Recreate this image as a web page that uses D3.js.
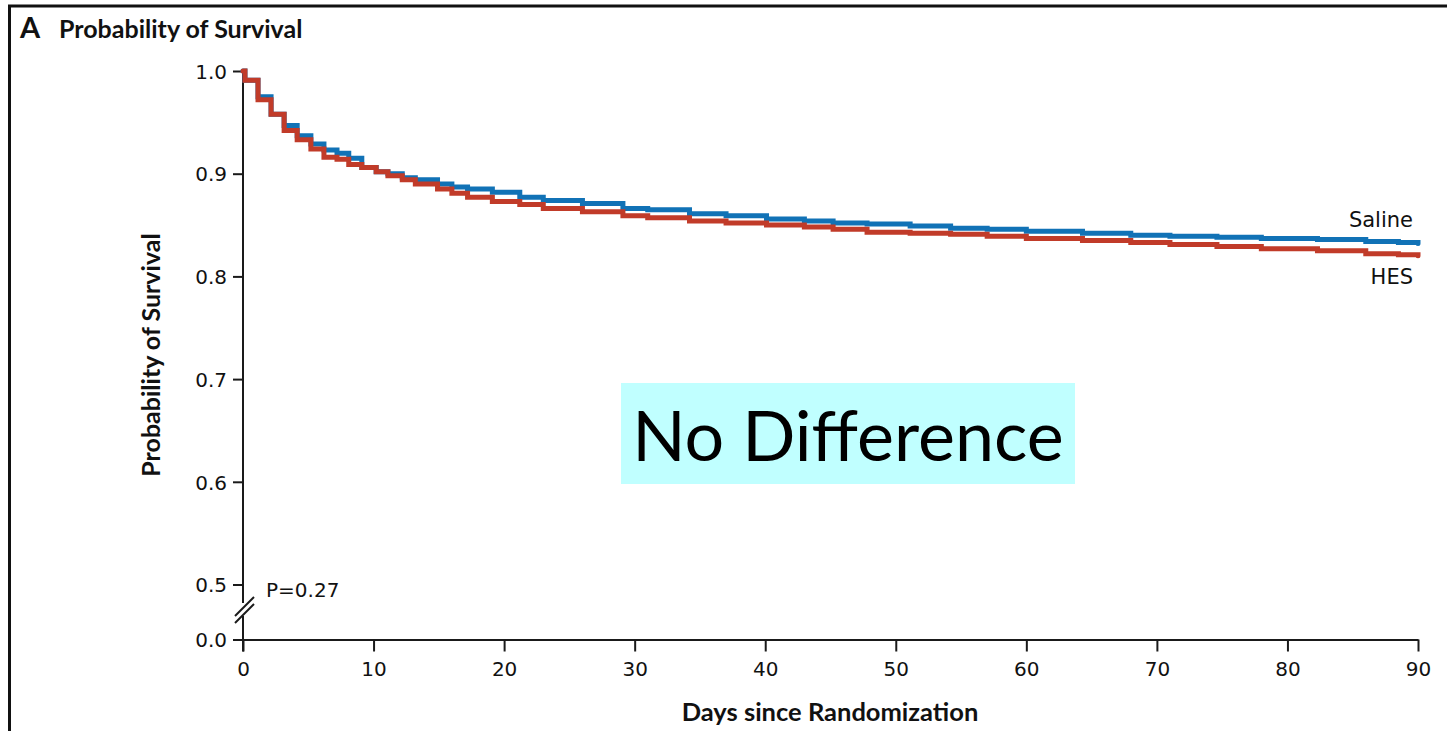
<!DOCTYPE html>
<html><head><meta charset="utf-8">
<script src="https://cdn.jsdelivr.net/npm/d3@7"></script>
<style>html,body{margin:0;padding:0;background:#fff;}svg{display:block;}</style>
</head><body>
<svg id="chart" width="1447" height="731"></svg>
<script>
// ---- data ----
const days   = [0, 0.15, 1.15, 2.15, 3.15, 4.15, 5.2, 6.2, 7.2, 8.1, 9.1, 10.2, 11.1, 12.2, 13.2, 14.9, 16, 17.2, 19.1, 21.2, 23, 26, 29.1, 31, 34.2, 37, 40.1, 43, 45.2, 47.8, 51.1, 54.2, 57, 60, 64.3, 68, 71, 74.6, 78, 82.3, 86, 88.5, 90];
const saline = [1.0, 0.991, 0.975, 0.958, 0.947, 0.937, 0.929, 0.923, 0.920, 0.915, 0.906, 0.902, 0.900, 0.896, 0.894, 0.890, 0.887, 0.885, 0.882, 0.877, 0.874, 0.871, 0.866, 0.865, 0.861, 0.859, 0.856, 0.854, 0.852, 0.851, 0.849, 0.847, 0.846, 0.844, 0.842, 0.840, 0.839, 0.838, 0.837, 0.836, 0.834, 0.833, 0.832];
const hes    = [1.0, 0.991, 0.972, 0.958, 0.942, 0.933, 0.924, 0.916, 0.914, 0.909, 0.906, 0.902, 0.898, 0.894, 0.890, 0.885, 0.881, 0.877, 0.873, 0.870, 0.866, 0.863, 0.859, 0.857, 0.854, 0.852, 0.850, 0.848, 0.846, 0.843, 0.842, 0.841, 0.839, 0.837, 0.835, 0.833, 0.831, 0.829, 0.827, 0.825, 0.822, 0.821, 0.820];
const xTicks = [0, 10, 20, 30, 40, 50, 60, 70, 80, 90];
const yTicks = [0.0, 0.5, 0.6, 0.7, 0.8, 0.9, 1.0];
const seriesNames = ["Saline", "HES"];
const pValueText = "P=0.27";
const annotationText = "No Difference";
const titleLetter = "A";
const titleText = "Probability of Survival";
const yTitle = "Probability of Survival";
const xTitle = "Days since Randomization";

// ---- layout ----
const svg = d3.select("#chart");
const X0 = 243, X1 = 1418;
const x = d3.scaleLinear().domain([0, 90]).range([X0, X1]);
// broken axis: 0.0 sits just below 0.5
const y = d3.scaleLinear().domain([0, 0.5, 1.0]).range([639.5, 584.5, 71]);
const axisColor = "#1a1a1a";
const lblFont = "'DejaVu Sans', sans-serif";
const boldFont = "Lato, 'Open Sans', sans-serif";

// frame
svg.append("path").attr("d", "M9.5,731 V6 H1447").attr("fill", "none")
  .attr("stroke", "#111").attr("stroke-width", 3);

// title
svg.append("text").attr("x", 20).attr("y", 38).attr("font-family", boldFont)
  .attr("font-weight", 700).attr("font-size", 29).attr("fill", "#111").text(titleLetter);
svg.append("text").attr("x", 59).attr("y", 38).attr("font-family", boldFont)
  .attr("font-weight", 700).attr("font-size", 25).attr("fill", "#111").text(titleText);

// annotation box
svg.append("rect").attr("x", 621).attr("y", 383).attr("width", 454).attr("height", 101)
  .attr("fill", "#c0ffff");
svg.append("text").attr("x", 848).attr("y", 461).attr("text-anchor", "middle")
  .attr("font-family", "Lato, sans-serif").attr("font-size", 70).attr("fill", "#000")
  .text(annotationText);

// y axis
const gy = svg.append("g").attr("transform", `translate(${X0},0)`)
  .call(d3.axisLeft(y).tickValues(yTicks).tickSize(10).tickPadding(6)
    .tickFormat(d3.format(".1f")));
gy.select(".domain").remove();
gy.selectAll(".tick line").attr("stroke", axisColor).attr("stroke-width", 2);
gy.selectAll(".tick text").attr("font-family", lblFont).attr("font-size", 20)
  .attr("fill", "#111").attr("dy", "0.36em");

// x axis
const gx = svg.append("g").attr("transform", `translate(0,${y(0)})`)
  .call(d3.axisBottom(x).tickValues(xTicks).tickSize(12).tickSizeOuter(0).tickPadding(10));
gx.select(".domain").attr("stroke", axisColor).attr("stroke-width", 2);
gx.selectAll(".tick line").attr("stroke", axisColor).attr("stroke-width", 2);
gx.selectAll(".tick text").attr("font-family", lblFont).attr("font-size", 20).attr("fill", "#111");

// y axis line with break
svg.append("line").attr("x1", X0).attr("x2", X0).attr("y1", y(1.0)).attr("y2", 603)
  .attr("stroke", axisColor).attr("stroke-width", 2);
svg.append("line").attr("x1", X0).attr("x2", X0).attr("y1", 616).attr("y2", y(0) + 12)
  .attr("stroke", axisColor).attr("stroke-width", 2);
[0, 7].forEach(o => {
  svg.append("line").attr("x1", 235).attr("y1", 623 - o).attr("x2", 254).attr("y2", 604 - o)
    .attr("stroke", axisColor).attr("stroke-width", 2);
});

// axis titles
svg.append("text").attr("transform", `translate(160,355) rotate(-90)`).attr("text-anchor", "middle")
  .attr("font-family", boldFont).attr("font-weight", 700).attr("font-size", 25).attr("fill", "#111")
  .text(yTitle);
svg.append("text").attr("x", 830).attr("y", 721).attr("text-anchor", "middle")
  .attr("font-family", boldFont).attr("font-weight", 700).attr("font-size", 25.5).attr("fill", "#111")
  .text(xTitle);

// curves
const line = d3.line().x(d => x(d[0])).y(d => y(d[1])).curve(d3.curveStepAfter);
const series = [
  {name: seriesNames[0], vals: saline, color: "#1172b6"},
  {name: seriesNames[1], vals: hes, color: "#c13b29"}
];
series.forEach(s => {
  svg.append("path").datum(days.map((d, i) => [d, s.vals[i]]))
    .attr("d", line).attr("fill", "none").attr("stroke", s.color)
    .attr("stroke-width", 5).attr("stroke-linejoin", "miter").attr("stroke-linecap", "round");
});

// series labels
svg.append("text").attr("x", 1413).attr("y", 227).attr("text-anchor", "end")
  .attr("font-family", lblFont).attr("font-size", 21).attr("fill", "#111").text(seriesNames[0]);
svg.append("text").attr("x", 1413).attr("y", 284).attr("text-anchor", "end")
  .attr("font-family", lblFont).attr("font-size", 21).attr("fill", "#111").text(seriesNames[1]);

// p value
svg.append("text").attr("x", 266).attr("y", 597)
  .attr("font-family", lblFont).attr("font-size", 20).attr("fill", "#111").text(pValueText);
</script>
</body></html>
